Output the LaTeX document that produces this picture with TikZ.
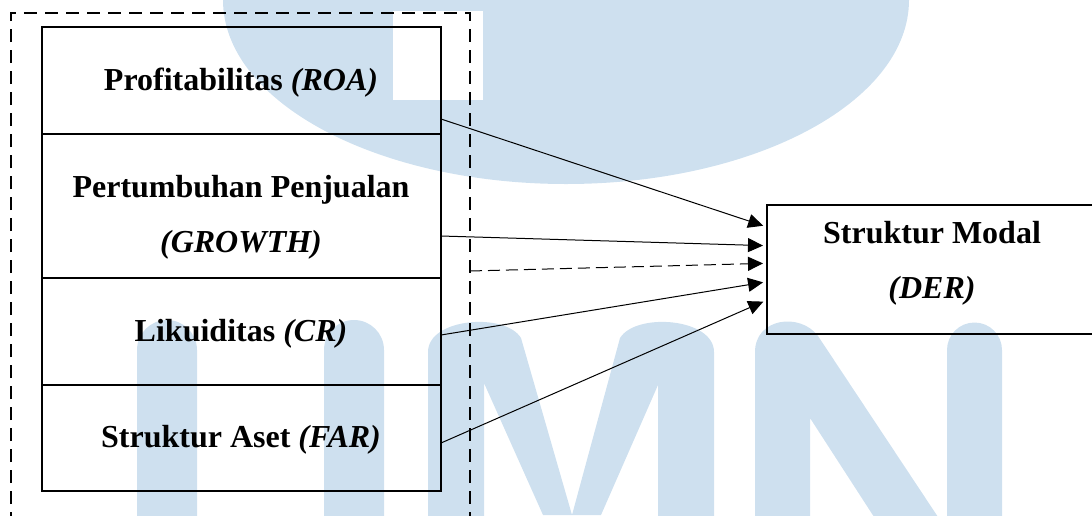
\documentclass[tikz,border=0pt]{standalone}
\usepackage{fontspec}
\setmainfont{Liberation Serif}
\usetikzlibrary{arrows.meta,calc}
\definecolor{wm}{RGB}{206,224,239}
\begin{document}
\begin{tikzpicture}[x=0.5pt,y=-0.5pt,
  box/.style={draw, line width=0.8pt, minimum width=199.5pt, inner sep=0pt, outer sep=0pt},
  lbl/.style={font=\fontsize{16}{19}\selectfont\bfseries, anchor=base, inner sep=0pt},
  conn/.style={line width=0.5pt, -{Triangle[length=7.5pt,width=7pt]}, shorten >=2pt},
  dsh/.style={dash pattern=on 6.5pt off 4pt, line width=0.85pt}]
\useasboundingbox (0,0) rectangle (1092,515);
\clip (0,0) rectangle (1092,515);
% watermark (background)
\fill[wm] (223,-2) -- (223,0) .. controls (223,101.6) and (376.6,184) .. (566,184)
  .. controls (755.4,184) and (909,101.6) .. (909,0) -- (909,-2) -- cycle;
\fill[white] (393,11) rectangle (483,100);
\fill[wm] (137,520) -- (137,350) .. controls (137,333.4) and (150.4,320) .. (167,320)
  .. controls (183.6,320) and (197,333.4) .. (197,350) -- (197,520) -- cycle;
\fill[wm] (324,520) -- (324,350) .. controls (324,333.4) and (337.4,320) .. (354,320)
  .. controls (370.6,320) and (384,333.4) .. (384,350) -- (384,520) -- cycle;
\fill[wm] (428,520) -- (428,352) .. controls (428,318) and (505,312) .. (521,338)
  -- (572,515) -- (620,338) .. controls (636,312) and (714,318) .. (714,352)
  -- (714,520) -- (658,520) -- (658,385) -- (601,515) -- (543,515)
  -- (484,383) -- (484,520) -- cycle;
\fill[wm] (755,520) -- (755,352) .. controls (755,318) and (800,312) .. (818,336)
  -- (940,520) -- (876,520) -- (810,418) -- (810,520) -- cycle;
\fill[wm] (947,520) -- (947,350) .. controls (947,334.8) and (959.3,322.5) .. (974.5,322.5)
  .. controls (989.7,322.5) and (1002,334.8) .. (1002,350) -- (1002,520) -- cycle;
% dashed frame
\draw[dsh] (11,525) -- (11,13) -- (470,13) -- (470,525);
% boxes
\node[box, minimum height=53.5pt] (roa) at (241.5,80.5) {};
\node[box, minimum height=72pt] (growth) at (241.5,206) {};
\node[box, minimum height=53.5pt] (cr) at (241.5,331.5) {};
\node[box, minimum height=53pt] (far) at (241.5,438) {};
\node[box, minimum width=165pt, minimum height=64.5pt] (der) at (932,269.5) {};
% labels
\node[lbl] (roaT) at (241,90) {Profitabilitas \textit{(ROA)}};
\node[lbl] (growthA) at (241,197) {Pertumbuhan Penjualan};
\node[lbl] (growthB) at (241,252) {\textit{(GROWTH)}};
\node[lbl] (crT) at (241,341) {Likuiditas \textit{(CR)}};
\node[lbl] (farT) at (241,447) {Struktur Aset \textit{(FAR)}};
\node[lbl] (derA) at (932,243) {Struktur Modal};
\node[lbl] (derB) at (932,298) {\textit{(DER)}};
% connectors
\coordinate (dc) at (470,271);
\draw[conn] ($(roa.east)+(0,38.5)$) -- ($(der.west)+(0,-42.5)$);
\draw[conn] ($(growth.east)+(0,30)$) -- ($(der.west)+(0,-23.8)$);
\draw[conn, dash pattern=on 6pt off 3pt] (dc) -- ($(der.west)+(0,-6.2)$);
\draw[conn] ($(cr.east)+(0,3.5)$) -- ($(der.west)+(0,12.2)$);
\draw[conn] ($(far.east)+(0,5)$) -- ($(der.west)+(0,30.5)$);
\end{tikzpicture}
\end{document}
